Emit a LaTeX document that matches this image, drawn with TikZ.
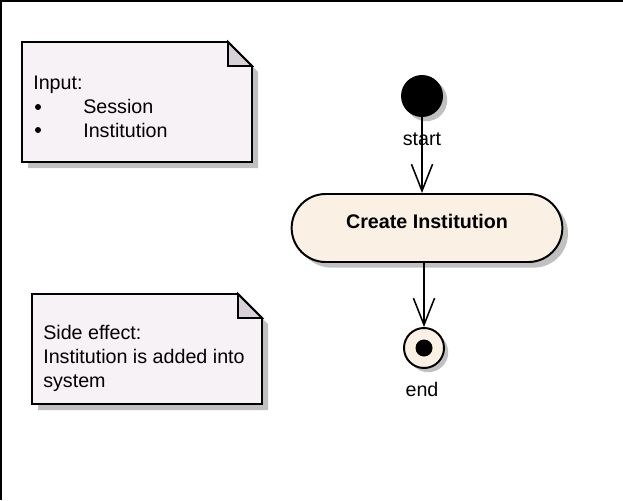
\documentclass[tikz,border=0pt]{standalone}
\usepackage{fontspec}
\setmainfont{Liberation Sans}
\usetikzlibrary{shapes.misc, shadows, arrows.meta, positioning}
\definecolor{notefill}{RGB}{246,242,246}
\definecolor{notefold}{RGB}{216,210,216}
\definecolor{shadowgray}{RGB}{192,192,192}
\definecolor{actioncream}{RGB}{250,240,227}
\newcommand{\diagfont}{\fontsize{14}{16}\selectfont}

\begin{document}
\begin{tikzpicture}[x=0.025cm, y=-0.025cm,
    flow/.style={-{Straight Barb[length=19pt,width=15pt]}, line width=1.1pt},
    note/.style={draw, line width=1.4pt, fill=notefill, line join=miter},
    fold/.style={draw, line width=1.4pt, fill=notefold},
    notetxt/.style={anchor=base west, inner sep=0pt, font=\diagfont},
    lbl/.style={anchor=base, inner sep=0pt, font=\diagfont},
    action/.style={rounded rectangle, draw, line width=1.4pt, fill=actioncream,
      minimum width=7cm, minimum height=1.7cm, text height=10pt, text depth=9pt,
      font=\diagfont\bfseries,
      drop shadow={shadow xshift=4pt, shadow yshift=-4pt, fill=shadowgray, opacity=1}},
    initial/.style={circle, fill=black, minimum size=1.05cm, inner sep=0pt,
      drop shadow={shadow xshift=3pt, shadow yshift=-3pt, fill=shadowgray, opacity=1}},
    final/.style={circle, draw, line width=1.4pt, fill=actioncream, minimum size=1cm, inner sep=0pt,
      drop shadow={shadow xshift=3pt, shadow yshift=-3pt, fill=shadowgray, opacity=1}}]

    \useasboundingbox (0,0) rectangle (623,500);
    \draw[line width=1.2pt] (0.8,500) -- (0.8,0.8) -- (623,0.8);

    % =====================
    % Input note
    % =====================
    \begin{scope}[shift={(22,42)}]
    \fill[shadowgray] (6,6) -- (212,6) -- (236,30) -- (236,126) -- (6,126) -- cycle;
    \draw[note] (0,0) -- (206,0) -- (230,24) -- (230,120) -- (0,120) -- cycle;
    \draw[fold] (206,0) -- (206,24) -- (230,24) -- cycle;

    \node[notetxt] (inputhd) at (11,47) {Input:};
    \fill (16,65) circle (3);
    \node[notetxt] (inputa) at (61,71) {Session};
    \fill (16,88) circle (3);
    \node[notetxt] (inputb) at (61,95) {Institution};
    \end{scope}

    % =====================
    % Side effect note
    % =====================
    \begin{scope}[shift={(32,294)}]
    \fill[shadowgray] (6,6) -- (212,6) -- (236,30) -- (236,116) -- (6,116) -- cycle;
    \draw[note] (0,0) -- (206,0) -- (230,24) -- (230,110) -- (0,110) -- cycle;
    \draw[fold] (206,0) -- (206,24) -- (230,24) -- cycle;

    \node[notetxt] (sidehd) at (11,45) {Side effect:};
    \node[notetxt] (sidea) at (11,69) {Institution is added into};
    \node[notetxt] (sideb) at (11,93) {system};
    \end{scope}

    % =====================
    % Activity
    % =====================
    \node[initial] (init) at (422,96) {};
    \node[lbl] (initlbl) at (422,145) {start};
    \node[action] (create) at (427,228) {Create Institution};
    \node[final] (final) at (424,348) {};
    \fill (final.center) circle (8.5);
    \node[lbl] (finallbl) at (422,396) {end};

    % =====================
    % Arrows
    % =====================
    \draw[flow] (init) -- (init |- create.north);
    \draw[flow] (create.south -| final) -- (final);

\end{tikzpicture}
\end{document}
